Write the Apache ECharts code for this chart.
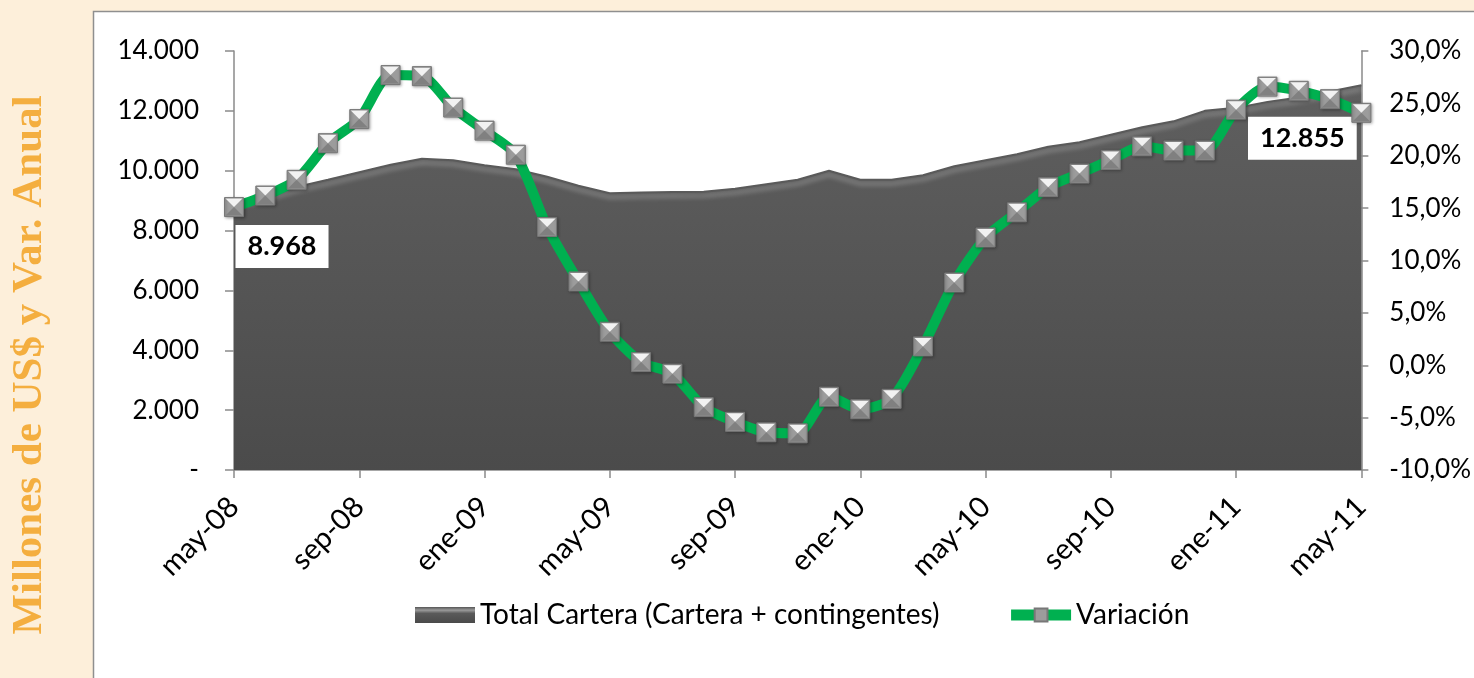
<!DOCTYPE html>
<html><head><meta charset="utf-8">
<script src="https://cdn.jsdelivr.net/npm/echarts@6/dist/echarts.min.js"></script>
<style>html,body{margin:0;padding:0;background:#FDEFDA;}#c{width:1474px;height:678px;}</style>
</head><body><div id="c"></div>
<script>
const categories = ['may-08','jun-08','jul-08','ago-08','sep-08','oct-08','nov-08','dic-08',
 'ene-09','feb-09','mar-09','abr-09','may-09','jun-09','jul-09','ago-09','sep-09','oct-09','nov-09','dic-09',
 'ene-10','feb-10','mar-10','abr-10','may-10','jun-10','jul-10','ago-10','sep-10','oct-10','nov-10','dic-10',
 'ene-11','feb-11','mar-11','abr-11','may-11'];
const totalCartera = [8968,9150,9460,9700,9950,10200,10400,10350,10180,10050,9800,9500,9250,9270,9290,9300,9400,9550,9700,10000,
 9700,9700,9850,10150,10350,10550,10800,10950,11200,11450,11650,12000,12100,12300,12450,12650,12855];
const variacion = [15.1,16.2,17.7,21.2,23.5,27.7,27.6,24.6,22.4,20.1,13.2,8.0,3.2,0.3,-0.8,-4.0,-5.4,-6.4,-6.5,-3.0,
 -4.2,-3.2,1.8,7.9,12.2,14.6,17.0,18.3,19.6,20.9,20.5,20.5,24.4,26.6,26.2,25.4,24.1];
const leftTicks = {min:0, max:14000, interval:2000};
const rightTicks = {min:-10, max:30, interval:5};
const titleText = 'Millones de US$ y Var. Anual';
const seriesNames = ['Total Cartera (Cartera + contingentes)','Variación'];

const FONT = 'Lato';
const chart = echarts.init(document.getElementById('c'), null, {renderer:'canvas'});
const fmtThousands = v => v === 0 ? '-' : String(v).replace(/\B(?=(\d{3})+(?!\d))/g, '.');
const fmtPct = v => v.toFixed(1).replace('.', ',') + '%';
const lastIdx = totalCartera.length - 1;
const areaData = totalCartera.map((v, i) => {
  if (i === 0) return {value: v, label: {show: true, offset: [48, 45]}};
  if (i === lastIdx) return {value: v, label: {show: true, offset: [-59, 53]}};
  return v;
});
const areaGrad = new echarts.graphic.LinearGradient(0, 0, 0, 1, [
  {offset: 0, color: '#5f5f5f'}, {offset: 1, color: '#4b4b4b'}]);
const iconGrad = new echarts.graphic.LinearGradient(0, 0, 0, 1, [
  {offset: 0, color: '#555'}, {offset: 0.2, color: '#9a9a9a'}, {offset: 0.4, color: '#5a5a5a'}, {offset: 1, color: '#4a4a4a'}]);

chart.setOption({
  backgroundColor: '#FDEFDA',
  animation: false,
  graphic: [
    {type: 'rect', z: 0, shape: {x: 93.5, y: 11.5, width: 1500, height: 700},
     style: {fill: '#ffffff', stroke: '#8f8f8f', lineWidth: 1.5}},
    {type: 'text', z: 1, x: 30, y: 365, rotation: Math.PI / 2,
     style: {text: titleText, fill: '#F4AE3F', font: 'bold 43px "Liberation Serif"',
       textAlign: 'center', textVerticalAlign: 'middle'}}
  ],
  grid: {left: 234, right: 110, top: 51, bottom: 208, containLabel: false},
  legend: {
    left: 410, top: 596, itemWidth: 60, itemHeight: 16, itemGap: 66,
    textStyle: {fontFamily: FONT, fontSize: 28, color: '#000'},
    data: [
      {name: seriesNames[0], icon: 'rect', itemStyle: {color: iconGrad, borderWidth: 0}},
      {name: seriesNames[1], lineStyle: {width: 11, color: '#00B050'}}
    ]
  },
  xAxis: {
    type: 'category', data: categories, boundaryGap: false,
    axisLine: {lineStyle: {color: '#8a8a8a', width: 1.5}},
    axisTick: {show: true, interval: 3, length: 8, lineStyle: {color: '#8a8a8a', width: 1.5}},
    axisLabel: {interval: 3, rotate: 45, margin: 32, fontFamily: FONT, fontSize: 29, color: '#000'},
    splitLine: {show: false}
  },
  yAxis: [
    {type: 'value', min: leftTicks.min, max: leftTicks.max, interval: leftTicks.interval, position: 'left',
     axisLine: {show: true, lineStyle: {color: '#8a8a8a', width: 1.5}},
     axisTick: {show: true, length: 9, lineStyle: {color: '#8a8a8a', width: 1.5}},
     axisLabel: {formatter: fmtThousands, margin: 35, fontFamily: FONT, fontSize: 26, color: '#000'},
     splitLine: {show: false}},
    {type: 'value', min: rightTicks.min, max: rightTicks.max, interval: rightTicks.interval, position: 'right',
     axisLine: {show: true, lineStyle: {color: '#8a8a8a', width: 1.5}},
     axisTick: {show: true, length: 7, lineStyle: {color: '#8a8a8a', width: 1.5}},
     axisLabel: {formatter: fmtPct, margin: 28, fontFamily: FONT, fontSize: 26, color: '#000'},
     splitLine: {show: false}}
  ],
  series: [
    {name: seriesNames[0], type: 'line', yAxisIndex: 0, z: 2, data: areaData,
     symbol: 'circle', symbolSize: 0.1, showSymbol: true,
     lineStyle: {color: '#5a5a5a', width: 2, shadowColor: 'rgba(255,255,255,0.45)', shadowBlur: 5, shadowOffsetY: 4},
     areaStyle: {color: areaGrad, opacity: 1},
     itemStyle: {color: 'rgba(0,0,0,0)'},
     label: {show: false, formatter: p => fmtThousands(p.value), fontFamily: FONT, fontWeight: 'bold',
       fontSize: 27, color: '#000', backgroundColor: '#fff', padding: [9, 12, 7, 12], position: 'inside'}},
    {name: seriesNames[1], type: 'line', yAxisIndex: 1, z: 3, data: variacion, smooth: 0.25,
     lineStyle: {color: '#00B050', width: 10},
     symbol: 'rect', symbolSize: 19, showSymbol: true,
     itemStyle: {color: '#9c9c9c', borderColor: '#777', borderWidth: 1,
       shadowColor: 'rgba(0,0,0,0.35)', shadowBlur: 3, shadowOffsetX: 1, shadowOffsetY: 1}},
    {type: 'scatter', yAxisIndex: 1, z: 4, data: variacion, silent: true,
     symbol: 'path://M0,0 L2,0 L1,1 Z', symbolSize: [17, 8.5], symbolOffset: [0, -4.25],
     itemStyle: {color: '#f2f2f2', opacity: 1}},
    {type: 'scatter', yAxisIndex: 1, z: 4, data: variacion, silent: true,
     symbol: 'path://M0,1 L2,1 L1,0 Z', symbolSize: [17, 8.5], symbolOffset: [0, 4.25],
     itemStyle: {color: '#808080', opacity: 1}}
  ]
});
</script></body></html>
